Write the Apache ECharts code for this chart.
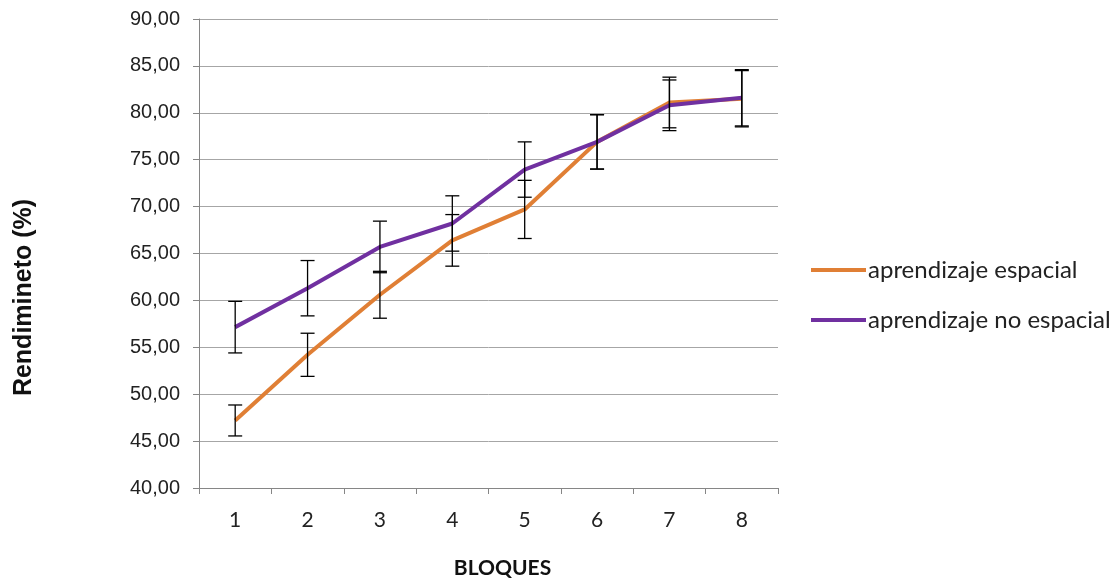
<!DOCTYPE html>
<html><head><meta charset="utf-8">
<script src="https://cdn.jsdelivr.net/npm/echarts@6/dist/echarts.min.js"></script>
<style>html,body{margin:0;padding:0;background:#fff}#c{width:1119px;height:585px}</style>
</head><body><div id="c"></div>
<script>
var categories = ['1','2','3','4','5','6','7','8'];
var espacial = [47.2, 54.2, 60.6, 66.4, 69.7, 76.9, 81.1, 81.5];
var espacialErr = [1.65, 2.3, 2.5, 2.75, 3.1, 2.9, 2.7, 3.0];
var noEspacial = [57.15, 61.3, 65.7, 68.2, 73.95, 76.9, 80.8, 81.6];
var noEspacialErr = [2.75, 2.95, 2.75, 2.95, 2.95, 2.9, 2.7, 3.0];

function errData(vals, errs){
  return vals.map(function(v,i){ return [i, v-errs[i], v+errs[i]]; });
}
function renderErr(params, api){
  var x = api.value(0);
  var lo = api.coord([x, api.value(1)]);
  var hi = api.coord([x, api.value(2)]);
  var hw = 7;
  var st = {stroke:'#000', lineWidth:1.3};
  return {type:'group', children:[
    {type:'line', shape:{x1:lo[0],y1:lo[1],x2:hi[0],y2:hi[1]}, style:st},
    {type:'line', shape:{x1:lo[0]-hw,y1:lo[1],x2:lo[0]+hw,y2:lo[1]}, style:st},
    {type:'line', shape:{x1:hi[0]-hw,y1:hi[1],x2:hi[0]+hw,y2:hi[1]}, style:st}
  ]};
}
var chart = echarts.init(document.getElementById('c'), null, {renderer:'canvas'});
chart.setOption({
  animation:false,
  backgroundColor:'#fff',
  grid:{left:199, right:341, top:19, bottom:97},
  legend:{
    orient:'vertical', left:806, top:253, itemGap:26,
    itemWidth:55, itemHeight:4, icon:'rect',
    data:['aprendizaje espacial','aprendizaje no espacial'],
    textStyle:{fontFamily:'Lato', fontSize:24, lineHeight:24, color:'#222', padding:[0,0,0,-3]}
  },
  xAxis:{
    type:'category', data:categories, boundaryGap:true,
    name:'BLOQUES', nameLocation:'middle', nameGap:70,
    nameTextStyle:{fontFamily:'Lato', fontWeight:'bold', fontSize:21, color:'#111', padding:[0,0,0,28]},
    axisLine:{lineStyle:{color:'#868686', width:1}},
    axisTick:{show:true, length:6, lineStyle:{color:'#868686'}},
    axisLabel:{fontFamily:'Lato', fontSize:21, color:'#222', margin:22}
  },
  yAxis:{
    type:'value', min:40, max:90, interval:5,
    name:'Rendimineto (%)', nameLocation:'middle', nameGap:162, nameRotate:90,
    nameTextStyle:{fontFamily:'Liberation Sans', fontWeight:'bold', fontSize:25, color:'#111', padding:[0,88,0,0]},
    axisLine:{show:true, lineStyle:{color:'#868686', width:1}},
    axisTick:{show:true, length:6, lineStyle:{color:'#868686'}},
    splitLine:{lineStyle:{color:'#a6a6a6', width:1}},
    axisLabel:{fontFamily:'Liberation Sans', fontSize:20, color:'#222', margin:19,
      formatter:function(v){ return v.toFixed(2).replace('.',','); }}
  },
  series:[
    {name:'aprendizaje espacial', type:'line', data:espacial, symbol:'none',
     lineStyle:{color:'#E07F35', width:4}, itemStyle:{color:'#E07F35'}, z:3},
    {name:'aprendizaje no espacial', type:'line', data:noEspacial, symbol:'none',
     lineStyle:{color:'#7030A0', width:4}, itemStyle:{color:'#7030A0'}, z:4},
    {type:'custom', name:'errEsp', renderItem:renderErr, data:errData(espacial, espacialErr), z:5, encode:{x:0,y:[1,2]}},
    {type:'custom', name:'errNo', renderItem:renderErr, data:errData(noEspacial, noEspacialErr), z:5, encode:{x:0,y:[1,2]}}
  ]
});
</script></body></html>
